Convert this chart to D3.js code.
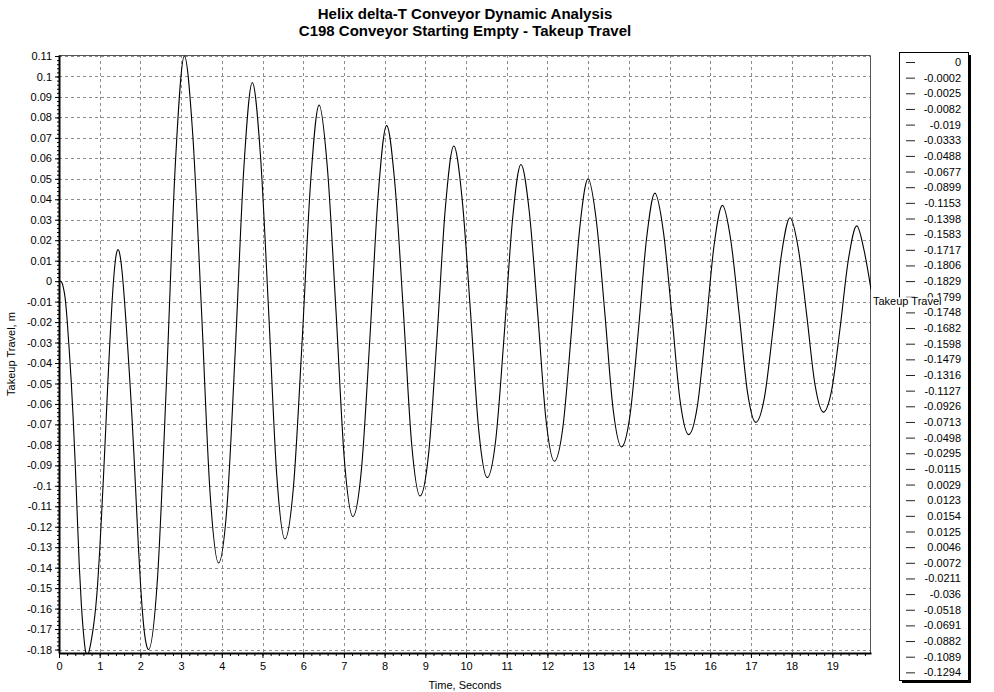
<!DOCTYPE html>
<html>
<head>
<meta charset="utf-8">
<script src="https://cdn.jsdelivr.net/npm/d3@7"></script>
<style>
  body { margin: 0; background: #fff; }
  text { font-family: Arial, "Liberation Sans", sans-serif; }
</style>
</head>
<body>
<div id="chart"></div>
<script>
var svgWidth = 994
var svgHeight = 692

// Chart titles
var titleLines = ["Helix delta-T Conveyor Dynamic Analysis", "C198 Conveyor Starting Empty - Takeup Travel"]
var xLabel = "Time, Seconds"
var yLabel = "Takeup Travel, m"
var seriesName = "Takeup Travel"

// Time (s) and takeup travel (m)
var timeS = [0, 0.05, 0.1, 0.15, 0.2, 0.25, 0.3, 0.35, 0.4, 0.45, 0.5, 0.55, 0.6, 0.65, 0.7, 0.75, 0.8, 0.85, 0.9, 0.95,
  1, 1.05, 1.1, 1.15, 1.2, 1.25, 1.3, 1.35, 1.4, 1.45, 1.5, 1.55, 1.6, 1.65, 1.7, 1.75, 1.8, 1.85, 1.9, 1.95,
  2.0, 2.05, 2.1, 2.15, 2.2, 2.42, 2.64, 2.86, 3.08, 3.29, 3.5, 3.71, 3.92, 4.13, 4.335, 4.54, 4.75,
  4.95, 5.15, 5.35, 5.55, 5.76, 5.97, 6.18, 6.39, 6.6, 6.805, 7.01, 7.22, 7.43, 7.635, 7.84, 8.05,
  8.255, 8.46, 8.665, 8.87, 9.08, 9.285, 9.49, 9.7, 9.905, 10.11, 10.315, 10.52, 10.73, 10.935, 11.14, 11.35,
  11.555, 11.76, 11.965, 12.17, 12.38, 12.585, 12.79, 13.0, 13.205, 13.41, 13.615, 13.82, 14.025, 14.23, 14.435, 14.64,
  14.85, 15.055, 15.26, 15.47, 15.68, 15.885, 16.09, 16.3, 16.505, 16.71, 16.915, 17.12, 17.33, 17.54, 17.75, 17.96,
  18.165, 18.37, 18.575, 18.78, 18.985, 19.19, 19.395, 19.6, 19.78, 19.95]
var travelM = [0, -0.0002, -0.0025, -0.0082, -0.019, -0.0333, -0.0488, -0.0677, -0.0899, -0.1153, -0.1398, -0.1583, -0.1717, -0.1806, -0.1829, -0.1799, -0.1748, -0.1682, -0.1598, -0.1479,
  -0.1316, -0.1127, -0.0926, -0.0713, -0.0498, -0.0295, -0.0115, 0.0029, 0.0123, 0.0154, 0.0125, 0.0046, -0.0072, -0.0211, -0.036, -0.0518, -0.0691, -0.0882, -0.1089, -0.1294,
  -0.147, -0.1615, -0.172, -0.178, -0.180, -0.1452, -0.0495, 0.0578, 0.110, 0.0704, -0.0139, -0.103, -0.1377, -0.1095, -0.0321, 0.0548, 0.097,
  0.0613, -0.0145, -0.0948, -0.126, -0.1006, -0.0306, 0.0478, 0.086, 0.0538, -0.0145, -0.0869, -0.115, -0.0921, -0.029, 0.0416, 0.076,
  0.047, -0.0145, -0.0797, -0.105, -0.0845, -0.028, 0.0352, 0.066, 0.0401, -0.015, -0.0733, -0.096, -0.0776, -0.0271, 0.0295, 0.057,
  0.0338, -0.0155, -0.0677, -0.088, -0.0714, -0.0259, 0.0252, 0.050, 0.029, -0.0155, -0.0627, -0.081, -0.0661, -0.0252, 0.0207, 0.043,
  0.0241, -0.016, -0.0585, -0.075, -0.0616, -0.0246, 0.0168, 0.037, 0.020, -0.016, -0.0542, -0.069, -0.057, -0.024, 0.013, 0.031,
  0.0158, -0.0165, -0.0507, -0.064, -0.0531, -0.023, 0.0106, 0.027, 0.015, -0.004]

// Legend shows the first 40 samples
var legendValues = travelM.slice(0, 40)

// Axis ticks
var xTicks = d3.range(0, 20)
var yTicks = d3.range(-18, 12).map(d => +(d / 100).toFixed(2))

var margin = {top: 55, right: 123, bottom: 39, left: 59}
var plotWidth = svgWidth - margin.left - margin.right
var plotHeight = svgHeight - margin.top - margin.bottom

var svg = d3.select("#chart")
  .append("svg")
  .attr("width", svgWidth)
  .attr("height", svgHeight)

var chartGroup = svg.append("g")
  .attr("transform", `translate(${margin.left}, ${margin.top})`)

var xScale = d3.scaleLinear().domain([0, 19.95]).range([0, plotWidth])
var yScale = d3.scaleLinear().domain([-0.1817, 0.1105]).range([plotHeight, 0])

// Grid lines
chartGroup.append("g")
  .selectAll("line")
  .data(xTicks)
  .enter()
  .append("line")
  .attr("x1", d => Math.round(xScale(d)) + 0.5)
  .attr("x2", d => Math.round(xScale(d)) + 0.5)
  .attr("y1", 0)
  .attr("y2", plotHeight)
  .attr("stroke", "#8c8c8c")
  .attr("stroke-dasharray", "3,3")

chartGroup.append("g")
  .selectAll("line")
  .data(yTicks)
  .enter()
  .append("line")
  .attr("x1", 0)
  .attr("x2", plotWidth)
  .attr("y1", d => Math.round(yScale(d)) + 0.5)
  .attr("y2", d => Math.round(yScale(d)) + 0.5)
  .attr("stroke", "#8c8c8c")
  .attr("stroke-dasharray", "3,3")

// Top and right frame
chartGroup.append("path")
  .attr("d", `M0,0.5H${plotWidth - 0.5}V${plotHeight}`)
  .attr("fill", "none")
  .attr("stroke", "#555")

// Series line
svg.append("clipPath").attr("id", "clip")
  .append("rect").attr("width", plotWidth).attr("height", plotHeight)

var points = timeS.map((t, i) => [t, travelM[i]])
var line = d3.line()
  .x(d => xScale(d[0]))
  .y(d => yScale(d[1]))
  .curve(d3.curveMonotoneX)

chartGroup.append("path")
  .datum(points)
  .attr("clip-path", "url(#clip)")
  .attr("fill", "none")
  .attr("stroke", "#000")
  .attr("stroke-width", 1.1)
  .attr("d", line)

// X axis with minor ticks
var xMinor = chartGroup.append("g")
  .attr("transform", `translate(0, ${plotHeight})`)
  .call(d3.axisBottom(xScale).tickValues(d3.range(0, 100).map(d => d * 0.2).filter(d => d <= 19.95)).tickSize(3).tickFormat(""))
xMinor.select(".domain").remove()

var xAxis = chartGroup.append("g")
  .attr("transform", `translate(0, ${plotHeight})`)
  .call(d3.axisBottom(xScale).tickValues(xTicks).tickSize(5).tickSizeOuter(0).tickPadding(4))
xAxis.select(".domain").attr("stroke-width", 2)
xAxis.selectAll("text").attr("font-size", 11).attr("fill", "#000")

// Y axis with minor ticks
var yMinor = chartGroup.append("g")
  .call(d3.axisLeft(yScale).tickValues(d3.range(-90, 56).map(d => d * 0.002)).tickSize(2).tickFormat(""))
yMinor.select(".domain").remove()

var yAxis = chartGroup.append("g")
  .call(d3.axisLeft(yScale).tickValues(yTicks).tickSize(4).tickSizeOuter(0).tickPadding(3).tickFormat(d => String(d)))
yAxis.select(".domain").attr("stroke-width", 2)
yAxis.selectAll("text").attr("font-size", 11).attr("fill", "#000")

// Titles
svg.selectAll(".title")
  .data(titleLines)
  .enter()
  .append("text")
  .attr("class", "title")
  .attr("x", margin.left + plotWidth / 2)
  .attr("y", (d, i) => 19 + i * 17)
  .attr("text-anchor", "middle")
  .attr("font-size", 15)
  .attr("font-weight", "bold")
  .text(d => d)

// Axis labels
svg.append("text")
  .attr("x", margin.left + plotWidth / 2)
  .attr("y", svgHeight - 3)
  .attr("text-anchor", "middle")
  .attr("font-size", 11)
  .text(xLabel)

svg.append("text")
  .attr("transform", `translate(15, ${margin.top + plotHeight / 2}) rotate(-90)`)
  .attr("text-anchor", "middle")
  .attr("font-size", 11)
  .text(yLabel)

// Legend
var legendX = 899, legendY = 52, legendW = 69, legendH = 628
var rowH = 15.65
var legend = svg.append("g")
legend.append("rect")
  .attr("x", legendX + 3).attr("y", legendY + 3)
  .attr("width", legendW).attr("height", legendH)
  .attr("fill", "#000")
legend.append("rect")
  .attr("x", legendX + 0.5).attr("y", legendY + 0.5)
  .attr("width", legendW).attr("height", legendH)
  .attr("fill", "#fff").attr("stroke", "#000")

var rows = legend.selectAll(".row")
  .data(legendValues)
  .enter()
  .append("g")
  .attr("transform", (d, i) => `translate(${legendX}, ${legendY + 10 + i * rowH})`)
rows.append("line")
  .attr("x1", 7).attr("x2", 16)
  .attr("y1", 0.5).attr("y2", 0.5)
  .attr("stroke", "#222")
rows.append("text")
  .attr("x", 62)
  .attr("y", 4)
  .attr("text-anchor", "end")
  .attr("font-size", 11)
  .text(d => String(d))

// Series label at the line end (drawn over the legend, as in the source chart)
var last = points[points.length - 1]
var endLabel = svg.append("g")
  .attr("transform", `translate(${margin.left + xScale(last[0]) + 1}, ${margin.top + yScale(last[1]) + 16})`)
var labelText = endLabel.append("text")
  .attr("x", 1)
  .attr("font-size", 11)
  .text(seriesName)
var bb = labelText.node().getBBox()
endLabel.insert("rect", "text")
  .attr("x", bb.x).attr("y", bb.y + 2)
  .attr("width", bb.width + 1).attr("height", bb.height - 2)
  .attr("fill", "#fff")
</script>
</body>
</html>
